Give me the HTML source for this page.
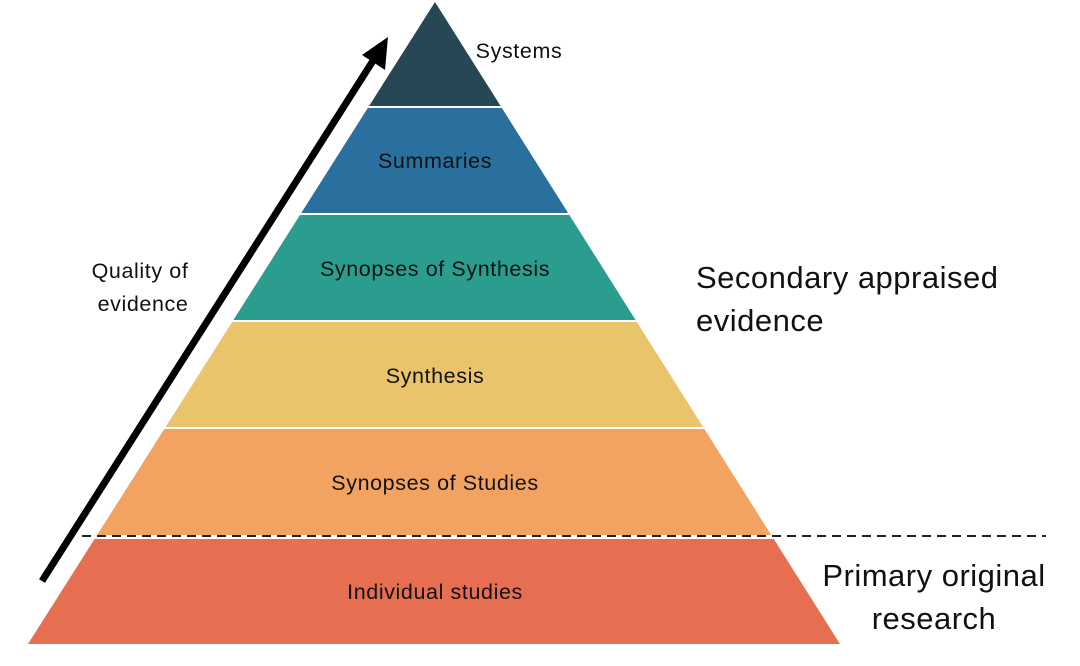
<!DOCTYPE html>
<html><head><meta charset="utf-8"><style>
html,body{margin:0;padding:0;background:#fff;}
svg text{font-family:"Liberation Sans","DejaVu Sans",sans-serif;}
</style></head><body>
<svg width="1080" height="661" viewBox="0 0 1080 661" xmlns="http://www.w3.org/2000/svg">
<defs><clipPath id="tri"><polygon points="435,2 28,644 840,644"/></clipPath></defs>
<g clip-path="url(#tri)">
<rect x="0" y="0" width="1080" height="107" fill="#264753"/>
<rect x="0" y="107" width="1080" height="107" fill="#2a709e"/>
<rect x="0" y="214" width="1080" height="107" fill="#2a9d8f"/>
<rect x="0" y="321" width="1080" height="107" fill="#e9c46a"/>
<rect x="0" y="428" width="1080" height="109" fill="#f3a361"/>
<rect x="0" y="537" width="1080" height="110" fill="#e76f51"/>
<g stroke="#fff" stroke-width="2">
<line x1="0" y1="107" x2="1080" y2="107"/>
<line x1="0" y1="214" x2="1080" y2="214"/>
<line x1="0" y1="321" x2="1080" y2="321"/>
<line x1="0" y1="428" x2="1080" y2="428"/>
<line x1="0" y1="537" x2="1080" y2="537" stroke-width="4"/>
</g>
</g>
<line x1="82" y1="536" x2="1046" y2="536" stroke="#222" stroke-width="2" stroke-dasharray="9,6"/>
<line x1="42" y1="581" x2="376" y2="56" stroke="#000" stroke-width="7"/>
<polygon points="388,37 385,70 362,55" fill="#000"/>
<g font-size="21.5" fill="#111" text-anchor="middle" letter-spacing="0.6">
<text x="519" y="58">Systems</text>
<text x="435" y="168">Summaries</text>
<text x="435" y="276">Synopses of Synthesis</text>
<text x="435" y="383">Synthesis</text>
<text x="435" y="490">Synopses of Studies</text>
<text x="435" y="599">Individual studies</text>
<text x="140" y="278">Quality of</text>
<text x="143" y="311">evidence</text>
</g>
<g font-size="31" fill="#111" letter-spacing="0.5">
<text x="696" y="288">Secondary appraised</text>
<text x="696" y="331">evidence</text>
<text x="934" y="586" text-anchor="middle">Primary original</text>
<text x="934" y="629" text-anchor="middle">research</text>
</g>
</svg>
</body></html>
